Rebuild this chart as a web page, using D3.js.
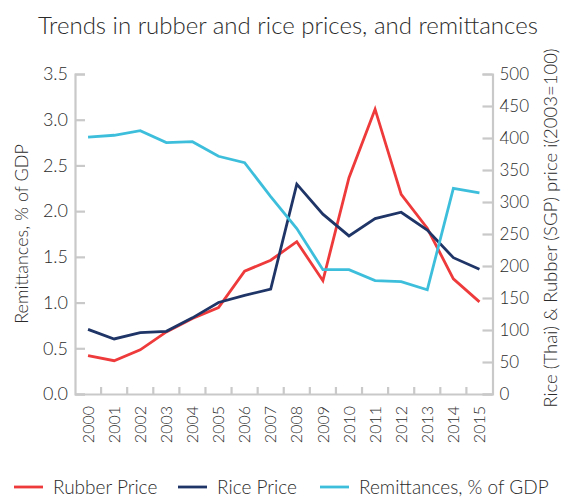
<!DOCTYPE html>
<html>
<head>
<meta charset="utf-8">
<script src="https://cdn.jsdelivr.net/npm/d3@7"></script>
<style>
  body { margin: 0; background: #fff; }
  svg text { font-family: Lato, "Open Sans", sans-serif; font-weight: 300; fill: #2b2b2b; }
</style>
</head>
<body>
<div class="chart"></div>
<script>
// values
const years = ['2000','2001','2002','2003','2004','2005','2006','2007',
               '2008','2009','2010','2011','2012','2013','2014','2015'];
const rubberPrice = [60, 52, 69, 97, 118, 135, 192, 209, 238, 177, 338, 445, 312, 259, 180, 144];
const ricePrice = [101, 86, 96, 98, 119, 143, 154, 164, 328, 281, 247, 274, 284, 256, 213, 195];
const remittances = [2.81, 2.83, 2.88, 2.75, 2.76, 2.60, 2.53, 2.16, 1.81, 1.36, 1.36, 1.24, 1.23, 1.14, 2.25, 2.20];
const leftTicks = [0, 0.5, 1, 1.5, 2, 2.5, 3, 3.5];
const rightTicks = [0, 50, 100, 150, 200, 250, 300, 350, 400, 450, 500];

const W = 568, H = 497;
const margin = {top: 74, left: 75, bottom: 103, right: 75.5};
const axisColor = '#c9c9c9';

const svg = d3.select('.chart').append('svg')
    .attr('width', W)
    .attr('height', H)

const x = d3.scaleBand()
    .domain(years)
    .range([margin.left, W - margin.right]);

const yLeft = d3.scaleLinear()
    .domain([0, 3.5])
    .range([H - margin.bottom, margin.top]);

const yRight = d3.scaleLinear()
    .domain([0, 500])
    .range([H - margin.bottom, margin.top]);

// title
svg.append('text')
    .attr('x', 288)
    .attr('y', 34)
    .attr('text-anchor', 'middle')
    .attr('font-size', '24px')
    .text('Trends in rubber and rice prices, and remittances');

// left axis, ticks pointing inwards
const leftAxis = svg.append('g')
    .attr('transform', `translate(${margin.left},0)`)
    .call(d3.axisRight(yLeft).tickValues(leftTicks).tickSize(10).tickFormat(d3.format('.1f')));
leftAxis.selectAll('text')
    .attr('x', -7)
    .attr('text-anchor', 'end')
    .attr('font-size', '18px');

// right axis, ticks pointing inwards
const rightAxis = svg.append('g')
    .attr('transform', `translate(${W - margin.right},0)`)
    .call(d3.axisLeft(yRight).tickValues(rightTicks).tickSize(10));
rightAxis.selectAll('text')
    .attr('x', 7)
    .attr('text-anchor', 'start')
    .attr('font-size', '17px');

// bottom axis, ticks between the years
const bottomAxis = svg.append('g')
    .attr('transform', `translate(0,${H - margin.bottom})`)
    .call(d3.axisTop(x).tickSize(0).tickFormat(''));
bottomAxis.selectAll('.sep')
    .data(years.slice(1))
    .enter()
    .append('line')
    .attr('class', 'sep')
    .attr('x1', d => x(d))
    .attr('x2', d => x(d))
    .attr('y1', 0)
    .attr('y2', -7);

svg.selectAll('.domain').attr('stroke', axisColor).attr('stroke-width', 2.2);
svg.selectAll('.tick line, .sep').attr('stroke', axisColor).attr('stroke-width', 2.2);
svg.selectAll('.tick text').style('fill', '#2b2b2b');

// year labels
svg.selectAll('.year')
    .data(years)
    .enter()
    .append('text')
    .attr('class', 'year')
    .attr('transform', d => `translate(${x(d) + x.bandwidth() / 2},${H - margin.bottom + 12}) rotate(-90)`)
    .attr('dy', '0.35em')
    .attr('text-anchor', 'end')
    .attr('font-size', '16px')
    .text(d => d);

// axis titles
svg.append('text')
    .attr('transform', `translate(28,${(margin.top + H - margin.bottom) / 2}) rotate(-90)`)
    .attr('text-anchor', 'middle')
    .attr('font-size', '18px')
    .text('Remittances, % of GDP');

svg.append('text')
    .attr('transform', `translate(557,228) rotate(-90)`)
    .attr('text-anchor', 'middle')
    .attr('font-size', '18.5px')
    .text('Rice (Thai) & Rubber (SGP) price i(2003=100)');

// lines
const series = [
    {name: 'Rubber Price', values: rubberPrice, scale: yRight, color: '#ee3a3a'},
    {name: 'Rice Price', values: ricePrice, scale: yRight, color: '#1f3567'},
    {name: 'Remittances, % of GDP', values: remittances, scale: yLeft, color: '#3dbfdc'}
];

series.forEach(s => {
    const line = d3.line()
        .x((d, i) => x(years[i]) + x.bandwidth() / 2)
        .y(d => s.scale(d));
    svg.append('path')
        .datum(s.values)
        .attr('fill', 'none')
        .attr('stroke', s.color)
        .attr('stroke-width', 2.8)
        .attr('stroke-linejoin', 'miter')
        .attr('d', line);
});

// legend
const legendX = [14, 178, 320];
const legend = svg.selectAll('.legend')
    .data(series)
    .enter()
    .append('g')
    .attr('class', 'legend')
    .attr('transform', (d, i) => `translate(${legendX[i]},487)`);

legend.append('line')
    .attr('x1', 0)
    .attr('x2', 29)
    .attr('stroke', d => d.color)
    .attr('stroke-width', 2.8);

legend.append('text')
    .attr('x', 39)
    .attr('dy', '0.35em')
    .attr('font-size', '19px')
    .text(d => d.name);
</script>
</body>
</html>
